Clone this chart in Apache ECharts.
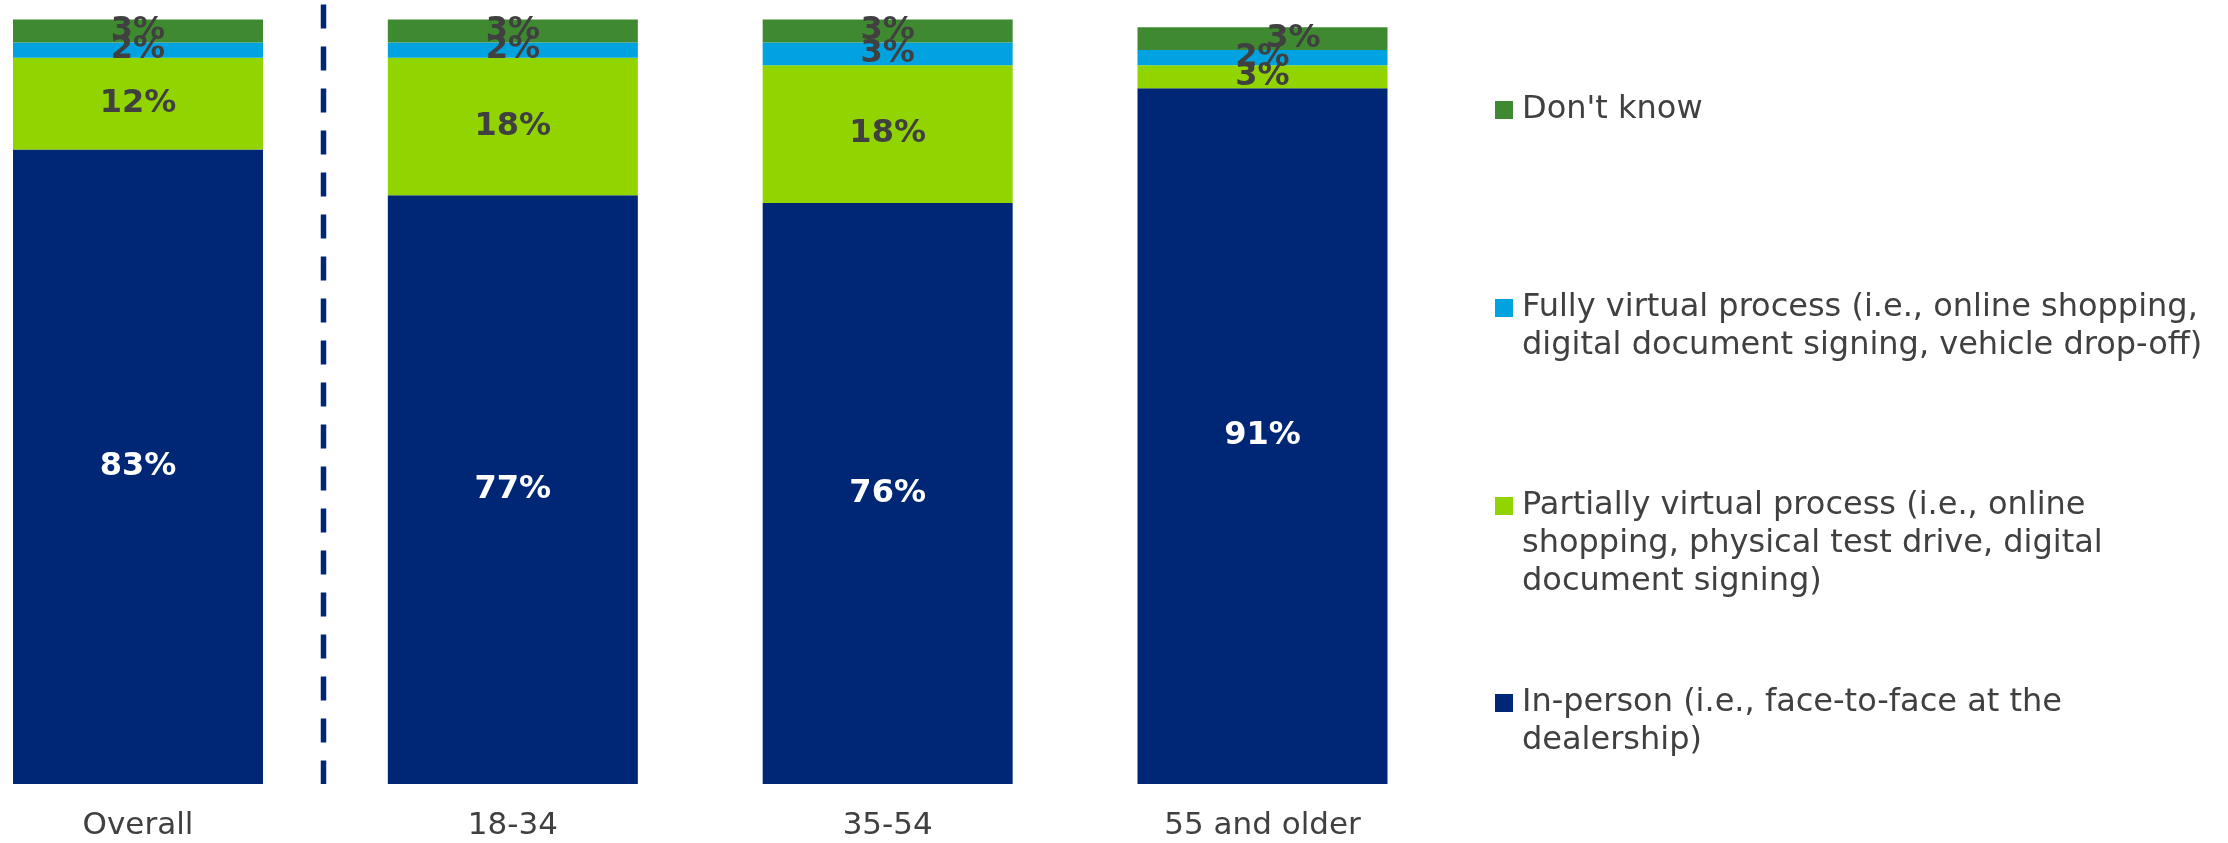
<!DOCTYPE html>
<html>
<head>
<meta charset="utf-8">
<script src="https://cdn.jsdelivr.net/npm/echarts@6/dist/echarts.min.js"></script>
<style>
  html, body { margin: 0; padding: 0; background: #ffffff; }
  #chart { width: 2228px; height: 843px; }
</style>
</head>
<body>
<div id="chart"></div>
<script>
// Preferred car-buying process, by age group (% of respondents)
const categories = ['Overall', '18-34', '35-54', '55 and older'];

const inPerson         = [83, 77, 76, 91];
const partiallyVirtual = [12, 18, 18, 3];
const fullyVirtual     = [2, 2, 3, 2];
const dontKnow         = [3, 3, 3, 3];

const nameInPerson  = 'In-person (i.e., face-to-face at the\ndealership)';
const namePartially = 'Partially virtual process (i.e., online\nshopping, physical test drive, digital\ndocument signing)';
const nameFully     = 'Fully virtual process (i.e., online shopping,\ndigital document signing, vehicle drop-off)';
const nameDontKnow  = "Don't know";

const FONT = '"DejaVu Sans", Verdana, sans-serif';
const TEXT = '#404040';
const COLORS = {
  inPerson: '#002776',
  partially: '#92D400',
  fully: '#00A3E0',
  dontKnow: '#3F8A30'
};

const chart = echarts.init(document.getElementById('chart'), null, { renderer: 'canvas' });

function barLabel(color) {
  return {
    show: true,
    position: 'inside',
    formatter: '{c}%',
    color: color,
    fontFamily: FONT,
    fontWeight: 'bold',
    fontSize: 32
  };
}

function stackSeries(name, values, color, labelColor, itemLabels) {
  return {
    name: name,
    type: 'bar',
    stack: 'total',
    barWidth: 250,
    itemStyle: { color: color },
    label: barLabel(labelColor),
    emphasis: { disabled: true },
    data: values.map((v, i) => (itemLabels && itemLabels[i]) ? { value: v, label: itemLabels[i] } : v)
  };
}

// One legend block per series. The icon box is as tall as the whole text block
// (and a little wider than the square), with the square drawn beside the first line only.
const LINE_H = 38;
const SQ = 18;
const ICON_W = SQ + 4;
function legendBlock(name, firstLineCenter) {
  const lines = name.split('\n').length;
  const h = lines * LINE_H;
  const sqTop = LINE_H / 2 - SQ / 2;
  const icon = 'path://M0,0L0,0M0,' + sqTop + 'H' + SQ + 'V' + (sqTop + SQ) + 'H0Z' +
               'M' + ICON_W + ',' + h + 'L' + ICON_W + ',' + h;
  return {
    data: [name],
    orient: 'vertical',
    left: 1495,
    top: firstLineCenter - LINE_H / 2,
    padding: 0,
    selectedMode: false,
    icon: icon,
    itemWidth: ICON_W,
    itemHeight: h,
    textStyle: {
      color: TEXT,
      fontFamily: FONT,
      fontSize: 32,
      lineHeight: LINE_H
    }
  };
}

const option = {
  animation: false,
  backgroundColor: '#ffffff',
  grid: { left: 138, right: 965.5, top: 19.5, bottom: 59, containLabel: false },
  xAxis: {
    type: 'category',
    data: categories,
    boundaryGap: false,
    axisLine: { show: false },
    axisTick: { show: false },
    splitLine: { show: false },
    axisLabel: {
      color: TEXT,
      fontFamily: FONT,
      fontSize: 31,
      margin: 26
    }
  },
  yAxis: {
    type: 'value',
    min: 0,
    max: 100,
    show: false,
    splitLine: { show: false }
  },
  legend: [
    legendBlock(nameDontKnow, 110),
    legendBlock(nameFully, 308),
    legendBlock(namePartially, 506),
    legendBlock(nameInPerson, 703)
  ],
  series: [
    stackSeries(nameInPerson, inPerson, COLORS.inPerson, '#ffffff'),
    stackSeries(namePartially, partiallyVirtual, COLORS.partially, TEXT),
    stackSeries(nameFully, fullyVirtual, COLORS.fully, TEXT),
    stackSeries(nameDontKnow, dontKnow, COLORS.dontKnow, TEXT, [null, null, null, { offset: [31, 0] }])
  ]
};

chart.setOption(option);

// dashed divider between the total and the age groups
const xA = chart.convertToPixel({ xAxisIndex: 0 }, categories[0]);
const xB = chart.convertToPixel({ xAxisIndex: 0 }, categories[1]);
const yTop = chart.convertToPixel({ yAxisIndex: 0 }, 100);
const yBottom = chart.convertToPixel({ yAxisIndex: 0 }, 0);
const xMid = Math.round((xA + xB) / 2) - 1.5;
chart.setOption({
  graphic: [{
    type: 'line',
    silent: true,
    shape: { x1: xMid, y1: yTop - 15, x2: xMid, y2: yBottom },
    style: { stroke: COLORS.inPerson, lineWidth: 5.5, lineDash: [24, 18] }
  }]
});
</script>
</body>
</html>
